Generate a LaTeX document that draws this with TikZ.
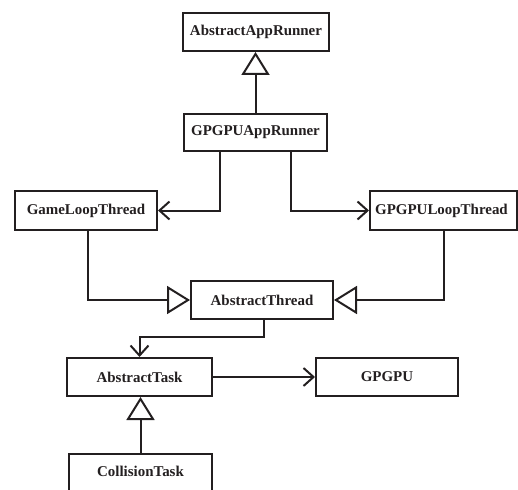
\documentclass[tikz,border=0pt]{standalone}
\usepackage{fontspec}
\setmainfont{Liberation Serif}
\usetikzlibrary{arrows.meta}
\definecolor{ink}{HTML}{231F20}
\begin{document}
\begin{tikzpicture}[x=1bp,y=-1bp,
  cls/.style={draw=ink, line width=2bp, fill=white, inner sep=0pt,
    font=\fontsize{15}{18}\selectfont\bfseries, text=ink},
  conn/.style={draw=ink, line width=2bp},
  inherit/.style={conn, -{Triangle[open, length=23bp, width=28bp]}},
  assoc/.style={conn, -{Straight Barb[length=10bp, width=18bp]}}]
\useasboundingbox (0,0) rectangle (518,490);
\clip (0,0) rectangle (518,490);
\node[cls, minimum width=146bp, minimum height=38bp] (aar) at (256,32) {AbstractAppRunner};
\node[cls, minimum width=143bp, minimum height=37bp] (gar) at (255.5,132.5) {GPGPUAppRunner};
\node[cls, minimum width=142bp, minimum height=39bp] (glt) at (86,210.5) {GameLoopThread};
\node[cls, minimum width=147bp, minimum height=39bp] (gplt) at (443.5,210.5) {\hspace*{-4bp}GPGPULoopThread};
\node[cls, minimum width=142bp, minimum height=38bp] (at) at (262,300) {AbstractThread};
\node[cls, minimum width=145bp, minimum height=38bp] (atask) at (139.5,377) {AbstractTask};
\node[cls, minimum width=142bp, minimum height=38bp] (gpgpu) at (387,377) {GPGPU};
\node[cls, minimum width=143bp, minimum height=50bp, anchor=north] (ct) at (140.5,453) {};
\node[font=\fontsize{15}{18}\selectfont\bfseries, text=ink, inner sep=0pt] (ctl) at (140.5,471.5) {CollisionTask};
\coordinate (l1) at (220,0);
\coordinate (r1) at (291,0);
\coordinate (l2) at (88,0);
\coordinate (r2) at (444,0);
\coordinate (bend) at (264,337);
\draw[inherit] (gar.north) -- (gar.north |- aar.south);
\draw[assoc] (gar.south -| l1) |- (glt.east);
\draw[assoc] (gar.south -| r1) |- (gplt.west);
\draw[inherit] (glt.south -| l2) |- (at.west);
\draw[inherit] (gplt.south -| r2) |- (at.east);
\draw[assoc] (at.south -| bend) -- (bend) -| (atask.north);
\draw[assoc] (atask.east) -- (gpgpu.west);
\draw[inherit] (ct.north) -- (ct.north |- atask.south);
\end{tikzpicture}
\end{document}
